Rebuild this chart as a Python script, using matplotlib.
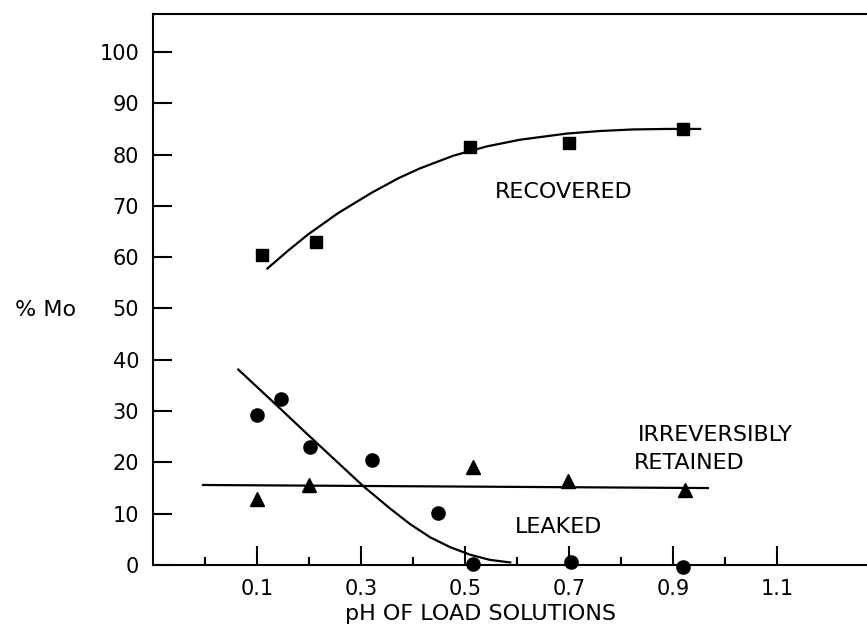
import matplotlib.pyplot as plt
from matplotlib.ticker import FixedLocator

# recovered (squares)
rec_x = [0.11, 0.213, 0.51, 0.70, 0.92]
rec_y = [60.5, 63.0, 81.5, 82.2, 85.0]
rec_cx = [0.120, 0.160, 0.199, 0.256, 0.321, 0.372, 0.413, 0.478, 0.542,
          0.606, 0.696, 0.76, 0.823, 0.89, 0.952]
rec_cy = [57.8, 61.3, 64.5, 68.6, 72.6, 75.4, 77.3, 79.8, 81.6,
          82.9, 84.1, 84.6, 84.9, 85.0, 85.0]

# leaked (circles)
leak_x = [0.10, 0.146, 0.202, 0.321, 0.448, 0.516, 0.704, 0.92]
leak_y = [29.3, 32.3, 23.0, 20.5, 10.1, 0.2, 0.5, -0.4]
leak_cx = [0.064, 0.135, 0.202, 0.253, 0.304, 0.330, 0.356, 0.394, 0.433,
           0.471, 0.510, 0.548, 0.587]
leak_cy = [38.1, 31.4, 25.0, 20.2, 15.4, 13.2, 11.0, 8.0, 5.4,
           3.5, 2.0, 1.0, 0.5]

# irreversibly retained (triangles)
ret_x = [0.10, 0.20, 0.516, 0.698, 0.923]
ret_y = [12.9, 15.6, 19.1, 16.4, 14.6]
ret_cx = [-0.004, 0.967]
ret_cy = [15.6, 15.0]

fig = plt.figure(figsize=(8.67, 6.37), dpi=100)
ax = fig.add_axes([0.1765, 0.113, 0.8235, 0.865])

ax.plot(rec_cx, rec_cy, color='black', lw=1.6)
ax.plot(leak_cx, leak_cy, color='black', lw=1.6)
ax.plot(ret_cx, ret_cy, color='black', lw=1.6)
ax.plot(rec_x, rec_y, 's', color='black', ms=8.5, ls='none', clip_on=False)
ax.plot(leak_x, leak_y, 'o', color='black', ms=9.5, ls='none', clip_on=False)
ax.plot(ret_x, ret_y, '^', color='black', ms=9.5, ls='none', clip_on=False)

ax.set_xlim(-0.1, 1.273)
ax.set_ylim(0, 107.4)
ax.spines['right'].set_visible(False)
for s in ax.spines.values():
    s.set_linewidth(1.5)

ax.yaxis.set_major_locator(FixedLocator([0, 10, 20, 30, 40, 50, 60, 70, 80, 90, 100]))
ax.xaxis.set_major_locator(FixedLocator([0.1, 0.3, 0.5, 0.7, 0.9, 1.1]))
ax.xaxis.set_minor_locator(FixedLocator([0.0, 0.2, 0.4, 0.6, 0.8, 1.0]))
ax.tick_params(axis='y', direction='in', length=14, width=1.5, pad=10, labelsize=15)
ax.tick_params(axis='x', which='major', direction='in', length=14, width=1.5, pad=10, labelsize=15)
ax.tick_params(axis='x', which='minor', direction='in', length=6, width=1.5)
ax.set_xticklabels(['0.1', '0.3', '0.5', '0.7', '0.9', '1.1'])

ax.set_xlabel('pH OF LOAD SOLUTIONS', fontsize=16, x=0.458, labelpad=4)
fig.text(0.017, 0.513, '% Mo', fontsize=16, va='center')

ax.text(0.558, 72.7, 'RECOVERED', fontsize=16, va='center')
ax.text(0.833, 25.3, 'IRREVERSIBLY', fontsize=16, va='center')
ax.text(0.825, 19.9, 'RETAINED', fontsize=16, va='center')
ax.text(0.596, 7.4, 'LEAKED', fontsize=16, va='center')

fig.savefig('out.png', dpi=100)
